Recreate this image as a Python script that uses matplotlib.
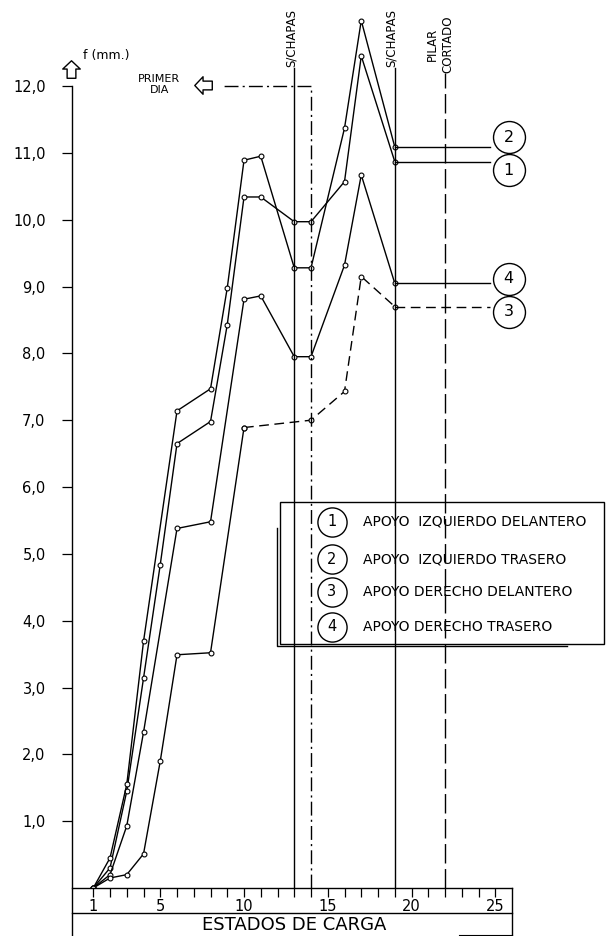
import numpy as np
import matplotlib.pyplot as plt
from matplotlib.path import Path
from matplotlib.patches import Rectangle

# deflection f (mm) per load state
x1 = [1, 2, 3, 4, 5, 6, 8, 9, 10, 11, 13, 14, 16, 17, 19]
y1 = [0, 0.30, 1.45, 3.14, 4.84, 6.65, 6.98, 8.43, 10.34, 10.34, 9.97, 9.97, 10.57, 12.45, 10.87]

x2 = [1, 2, 3, 4, 6, 8, 9, 10, 11, 13, 14, 16, 17, 19]
y2 = [0, 0.45, 1.55, 3.69, 7.14, 7.47, 8.98, 10.89, 10.95, 9.28, 9.28, 11.37, 12.98, 11.09]

x3 = [1, 2, 3, 4, 5, 6, 8, 10, 14, 16, 17, 19]
y3 = [0, 0.15, 0.20, 0.51, 1.90, 3.49, 3.52, 6.89, 7.00, 7.43, 9.15, 8.70]

x4 = [1, 2, 3, 4, 6, 8, 10, 11, 13, 14, 16, 17, 19]
y4 = [0, 0.20, 0.93, 2.33, 5.38, 5.48, 8.81, 8.86, 7.95, 7.95, 9.32, 10.67, 9.05]

series_names = ['APOYO  IZQUIERDO DELANTERO', 'APOYO  IZQUIERDO TRASERO',
                'APOYO DERECHO DELANTERO', 'APOYO DERECHO TRASERO']
end_label_y = {1: 10.74, 2: 11.23, 3: 8.62, 4: 9.12}

yticks = [1, 2, 3, 4, 5, 6, 7, 8, 9, 10, 11, 12]
ytick_labels = ['1,0', '2,0', '3,0', '4,0', '5,0', '6,0', '7,0', '8,0', '9,0', '10,0', '11,0', '12,0']
xticks = list(range(1, 26))
xtick_labels = [str(v) if v in (1, 5, 10, 15, 20, 25) else '' for v in xticks]

# load states with reference lines
chapas1 = 13
primer_dia = 14
chapas2 = 19
pilar = 22

plt.rcParams['font.family'] = ['DejaVu Sans']

fig = plt.figure(figsize=(6.1, 9.36), dpi=100)
ax = fig.add_axes([72/610, 1 - 888/936, 440/610, 885.5/936])
ax.set_xlim(-0.27, 26.0)
ax.set_ylim(0, 13.25)

for s in ['top', 'right']:
    ax.spines[s].set_visible(False)
ax.spines['left'].set_bounds(-0.72, 12)
ax.spines['left'].set_linewidth(1.0)
ax.spines['bottom'].set_linewidth(1.0)

ax.set_yticks(yticks)
ax.set_yticklabels(ytick_labels, fontsize=10.5)
ax.set_xticks(xticks)
ax.set_xticklabels(xtick_labels, fontsize=10.5)
ax.tick_params(axis='y', direction='out', length=7, width=0.9, pad=12)
ax.tick_params(axis='x', direction='out', length=6.5, width=0.9, pad=1.5)

pt = dict(marker='o', ms=3.5, mfc='white', mec='black', mew=0.8)
lw = 1.0
ax.plot(x1, y1, color='black', lw=lw, **pt)
ax.plot(x2, y2, color='black', lw=lw, **pt)
ax.plot(x4, y4, color='black', lw=lw, **pt)
i10 = x3.index(10)
ax.plot(x3[:i10 + 1], y3[:i10 + 1], color='black', lw=lw, **pt)
ax.plot(x3[i10:], y3[i10:], color='black', lw=lw, dashes=(7, 4), **pt)

# vertical reference lines
ax.plot([chapas1, chapas1], [0, 12.27], color='black', lw=1.0)
ax.plot([chapas2, chapas2], [0, 12.27], color='black', lw=1.0)
ax.plot([primer_dia, primer_dia, 8.7], [0, 12.0, 12.0], color='black', lw=1.0,
        dashes=(10, 3, 1.5, 3))
ax.plot([pilar, pilar], [0, 12.2], color='black', lw=1.0, dashes=(14, 4))

ax.text(chapas1 - 0.2, 12.28, 'S/CHAPAS', rotation=90, ha='center', va='bottom', fontsize=8.5)
ax.text(chapas2 - 0.2, 12.28, 'S/CHAPAS', rotation=90, ha='center', va='bottom', fontsize=8.5)
ax.text(pilar - 0.3, 12.2, 'PILAR\nCORTADO', rotation=90, ha='center', va='bottom',
        fontsize=8.5, multialignment='center', linespacing=1.2)
ax.text(4.95, 12.02, 'PRIMER\nDIA', ha='center', va='center', fontsize=8,
        multialignment='center', linespacing=1.1)

# outline arrows
up = Path([(0, 1), (-0.9, 0.15), (-0.45, 0.15), (-0.45, -0.8), (0.45, -0.8),
           (0.45, 0.15), (0.9, 0.15), (0, 1)],
          [Path.MOVETO] + [Path.LINETO] * 6 + [Path.CLOSEPOLY])
left = Path([(-y, x) for x, y in up.vertices], up.codes)
ax.plot([-0.33], [12.24], marker=up, ms=14, mfc='white', mec='black', mew=1.0, clip_on=False)
ax.plot([7.62], [12.02], marker=left, ms=14, mfc='white', mec='black', mew=1.0, clip_on=False)
ax.text(0.38, 12.46, 'f (mm.)', ha='left', va='center', fontsize=9)

# end labels
ends = [(x1, y1, 1, None), (x2, y2, 2, None), (x3, y3, 3, (7, 4)), (x4, y4, 4, None)]
for xs, ys, n, ds in ends:
    kw = dict(dashes=ds) if ds else {}
    ax.plot([xs[-1], 24.7], [ys[-1], ys[-1]], color='black', lw=1.0, **kw)
    ax.plot([25.8], [end_label_y[n]], 'o', ms=23, mfc='white', mec='black', mew=1.0,
            clip_on=False)
    ax.text(25.8, end_label_y[n], str(n), ha='center', va='center', fontsize=11.5)

# legend box
ax.add_patch(Rectangle((12.15, 3.65), 31.5 - 12.15, 5.78 - 3.65, fill=False,
                       ec='black', lw=1.0, clip_on=False))
ax.plot([11.97, 11.97, 29.3], [5.39, 3.62, 3.62], color='black', lw=1.0, clip_on=False)
leg_y = [5.48, 4.92, 4.43, 3.91]
for i, (name, yy) in enumerate(zip(series_names, leg_y)):
    ax.plot([15.25], [yy], 'o', ms=21, mfc='none', mec='black', mew=1.0, clip_on=False)
    ax.text(15.25, yy, str(i + 1), ha='center', va='center', fontsize=10.5)
    ax.text(17.1, yy, name, ha='left', va='center', fontsize=10, clip_on=False)

# bottom strip
tr = ax.transAxes
ax.plot([0, 1], [-25/885.5, -25/885.5], color='black', lw=1.0, transform=tr, clip_on=False)
ax.plot([1, 1], [0, -47/885.5], color='black', lw=1.0, transform=tr, clip_on=False)
ax.plot([0.88, 1], [-46.5/885.5, -46.5/885.5], color='black', lw=0.8, transform=tr, clip_on=False)
ax.text(0.505, -37/885.5, 'ESTADOS DE CARGA', transform=tr, ha='center', va='center',
        fontsize=13)

fig.savefig('out.png', dpi=100)
